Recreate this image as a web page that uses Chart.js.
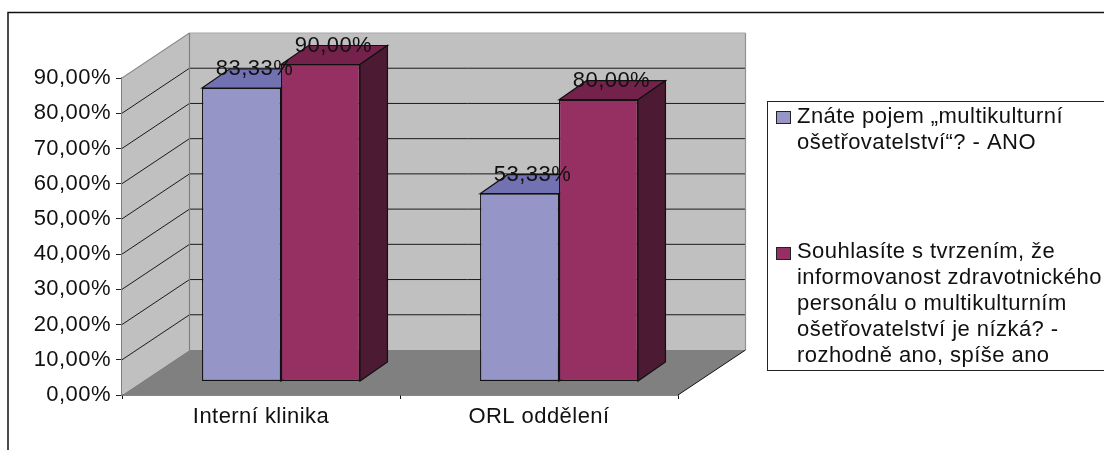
<!DOCTYPE html>
<html>
<head>
<meta charset="utf-8">
<title>Multikulturní ošetřovatelství</title>
<script src="https://cdn.jsdelivr.net/npm/chart.js@4"></script>
<style>
  html, body { margin: 0; padding: 0; background: #fff; overflow: hidden; }
</style>
</head>
<body>
<canvas id="graf" width="1104" height="450"></canvas>
<script>
const categories = ['Interní klinika', 'ORL oddělení'];
const znateValues = [83.33, 53.33];
const souhlasValues = [90, 80];
const tickValues = [0, 10, 20, 30, 40, 50, 60, 70, 80, 90];
const znateLegend = ['Znáte pojem „multikulturní', 'ošetřovatelství“? - ANO'];
const souhlasLegend = ['Souhlasíte s tvrzením, že', 'informovanost zdravotnického', 'personálu o multikulturním', 'ošetřovatelství je nízká? -', 'rozhodně ano, spíše ano'];

const FONT = '"Liberation Sans", Arial, sans-serif';
const formatPct = v => v.toFixed(2).replace('.', ',') + '%';

// posun zadni steny a sloupcu oproti prednimu okraji grafu (3D pohled)
const WALL = { x: 67.5, y: -45 };
const FRONT = { x: 20, y: -13.5 };
const DEPTH = { x: 27.5, y: -19 };

const shades = [
  { front: '#9595C8', top: '#7272B2', side: '#4A4A78' },
  { front: '#962F62', top: '#74214C', side: '#4C1B33' }
];

function poly(ctx, pts, fill, stroke, lw) {
  ctx.beginPath();
  pts.forEach((p, i) => i ? ctx.lineTo(p[0], p[1]) : ctx.moveTo(p[0], p[1]));
  ctx.closePath();
  if (fill) { ctx.fillStyle = fill; ctx.fill(); }
  if (stroke) { ctx.strokeStyle = stroke; ctx.lineWidth = lw || 1; ctx.stroke(); }
}

function line(ctx, x1, y1, x2, y2, color, lw) {
  ctx.beginPath();
  ctx.moveTo(x1, y1);
  ctx.lineTo(x2, y2);
  ctx.strokeStyle = color;
  ctx.lineWidth = lw || 1;
  ctx.stroke();
}

const frame3d = {
  id: 'frame3d',
  beforeDraw(chart) {
    // text je v originale mirne roztazeny do sirky
    chart.ctx.letterSpacing = '0.45px';

    // ramecek grafu, vpravo a dole pokracuje za okraj obrazku
    const ctx = chart.ctx;
    ctx.save();
    ctx.strokeStyle = '#111';
    ctx.lineWidth = 1.5;
    ctx.strokeRect(8, 12.5, 1300, 700);
    drawLegend(ctx);
    ctx.restore();
  },
  beforeDatasetsDraw(chart) {
    const ctx = chart.ctx;
    const { left, right, top, bottom } = chart.chartArea;
    const yScale = chart.scales.y;

    ctx.save();
    // bocni stena, zadni stena, podlaha
    poly(ctx, [[left, top], [left + WALL.x, top + WALL.y], [left + WALL.x, bottom + WALL.y], [left, bottom]], '#C0C0C0');
    poly(ctx, [[left + WALL.x, top + WALL.y], [right + WALL.x, top + WALL.y], [right + WALL.x, bottom + WALL.y], [left + WALL.x, bottom + WALL.y]], '#C0C0C0');
    poly(ctx, [[left, bottom], [left + WALL.x, bottom + WALL.y], [right + WALL.x, bottom + WALL.y], [right, bottom]], '#808080');

    // mrizka
    tickValues.slice(1, -1).forEach(v => {
      const y = yScale.getPixelForValue(v);
      line(ctx, left, y, left + WALL.x, y + WALL.y, '#1a1a1a');
      line(ctx, left + WALL.x, y + WALL.y, right + WALL.x, y + WALL.y, '#1a1a1a');
    });

    // obrys sten
    line(ctx, left, top, left + WALL.x, top + WALL.y, '#8c8c8c', 1.2);
    line(ctx, left + WALL.x, top + WALL.y, right + WALL.x, top + WALL.y, '#a8a8a8', 1.2);
    line(ctx, left + WALL.x, top + WALL.y, left + WALL.x, bottom + WALL.y, '#808080', 1.2);
    line(ctx, right + WALL.x, top + WALL.y, right + WALL.x, bottom + WALL.y, '#909090', 1.2);
    line(ctx, right, bottom, right + WALL.x, bottom + WALL.y, '#111', 1);

    // horni a bocni plochy sloupcu, predni strany kresli Chart.js
    chart.data.datasets.forEach((ds, i) => {
      chart.getDatasetMeta(i).data.forEach(bar => {
        const { x, y, base, width } = bar.getProps(['x', 'y', 'base', 'width']);
        const x0 = x - width / 2 + FRONT.x;
        const x1 = x + width / 2 + FRONT.x;
        const yTop = y + FRONT.y;
        const yBase = base + FRONT.y;
        poly(ctx, [[x0, yTop], [x0 + DEPTH.x, yTop + DEPTH.y], [x1 + DEPTH.x, yTop + DEPTH.y], [x1, yTop]], shades[i].top, '#111', 1.2);
        poly(ctx, [[x1, yTop], [x1 + DEPTH.x, yTop + DEPTH.y], [x1 + DEPTH.x, yBase + DEPTH.y], [x1, yBase]], shades[i].side, '#111', 1.2);
      });
    });

    ctx.translate(FRONT.x, FRONT.y);
  },
  afterDatasetsDraw(chart) {
    const ctx = chart.ctx;
    ctx.restore();

    // popisky hodnot
    ctx.save();
    ctx.font = '22px ' + FONT;
    ctx.fillStyle = '#111';
    ctx.textAlign = 'center';
    ctx.textBaseline = 'middle';
    chart.data.datasets.forEach((ds, i) => {
      chart.getDatasetMeta(i).data.forEach((bar, j) => {
        const { x, y } = bar.getProps(['x', 'y']);
        ctx.fillText(formatPct(ds.data[j]), x + FRONT.x + 13, y + FRONT.y - 19);
      });
    });
    ctx.restore();
  }
};

function drawLegend(ctx) {
  const boxLeft = 767.5, boxTop = 101.5;
  ctx.strokeStyle = '#222';
  ctx.lineWidth = 1;
  ctx.strokeRect(boxLeft, boxTop, 500, 269);

  ctx.font = '22px ' + FONT;
  ctx.fillStyle = '#111';
  ctx.textAlign = 'left';
  ctx.textBaseline = 'middle';
  znateLegend.forEach((t, i) => ctx.fillText(t, 797, 117 + i * 26));
  souhlasLegend.forEach((t, i) => ctx.fillText(t, 797, 252 + i * 26));

  ctx.fillStyle = shades[0].front;
  ctx.fillRect(776.5, 111.5, 14, 12);
  ctx.strokeRect(776.5, 111.5, 14, 12);
  ctx.fillStyle = shades[1].front;
  ctx.fillRect(776.5, 247.5, 14, 12);
  ctx.strokeRect(776.5, 247.5, 14, 12);
}

new Chart(document.getElementById('graf'), {
  type: 'bar',
  data: {
    labels: categories,
    datasets: [
      { label: 'Znáte pojem „multikulturní ošetřovatelství“? - ANO', data: znateValues, backgroundColor: shades[0].front },
      { label: 'Souhlasíte s tvrzením, že informovanost zdravotnického personálu o multikulturním ošetřovatelství je nízká? - rozhodně ano, spíše ano', data: souhlasValues, backgroundColor: shades[1].front }
    ]
  },
  options: {
    responsive: false,
    animation: false,
    layout: { padding: { top: 78, right: 426, bottom: 0, left: 0 } },
    datasets: {
      bar: {
        barPercentage: 1,
        categoryPercentage: 0.568,
        borderColor: '#111',
        borderWidth: 1.2,
        borderSkipped: false,
        clip: false
      }
    },
    plugins: {
      legend: { display: false },
      tooltip: { enabled: false },
      title: { display: false }
    },
    scales: {
      x: {
        afterFit(scale) { scale.height = 55; },
        grid: { drawOnChartArea: false, color: '#111', tickLength: 4, tickColor: '#111' },
        border: { color: '#111', width: 1.5 },
        ticks: { color: '#111', padding: 5, maxRotation: 0, font: { family: FONT, size: 22 } }
      },
      y: {
        min: 0,
        max: 90,
        afterFit(scale) { scale.width = 122; },
        afterBuildTicks(scale) { scale.ticks = tickValues.map(value => ({ value })); },
        grid: { drawOnChartArea: false, tickLength: 6, tickColor: '#222' },
        border: { color: '#808080', width: 1.2 },
        ticks: {
          color: '#111',
          padding: 5,
          autoSkip: false,
          font: { family: FONT, size: 22 },
          callback: v => formatPct(v)
        }
      }
    }
  },
  plugins: [frame3d]
});
</script>
</body>
</html>
